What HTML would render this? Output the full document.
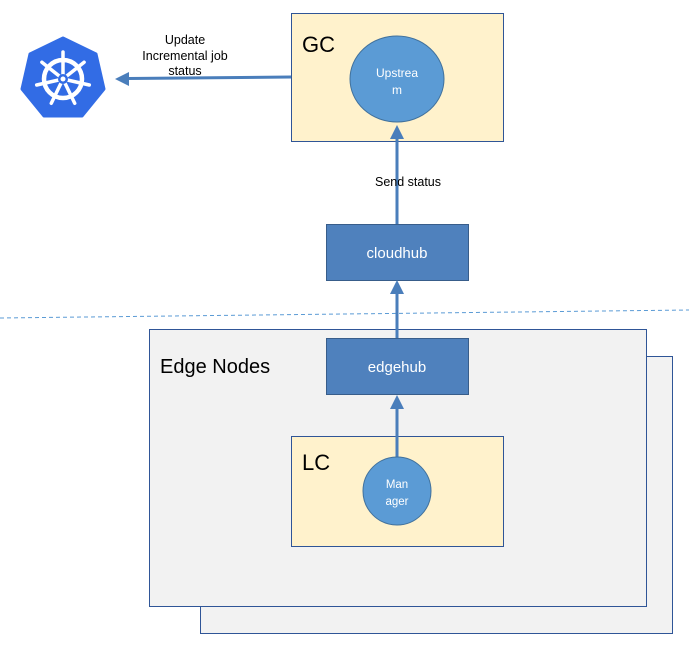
<!DOCTYPE html>
<html><head><style>html,body{margin:0;padding:0;background:#fff;}svg{display:block;}</style></head>
<body>
<svg width="689" height="658" xmlns="http://www.w3.org/2000/svg" font-family="Liberation Sans, sans-serif">
<line x1="0" y1="318" x2="689" y2="310" stroke="#5b9bd5" stroke-width="1" stroke-dasharray="4,3"/>
<polygon points="63,38 96,54 104,89 82,116 44,116 22,89 30,54" fill="#326ce5" stroke="#326ce5" stroke-width="3" stroke-linejoin="round"/>
<g stroke="#fff" fill="none" stroke-linecap="round">
<circle cx="63" cy="79" r="19" stroke-width="4.5"/>
<g stroke-width="3.5">
<line x1="63" y1="79" x2="63" y2="52"/>
<line x1="63" y1="79" x2="84.1" y2="62.2"/>
<line x1="63" y1="79" x2="89.3" y2="85"/>
<line x1="63" y1="79" x2="74.7" y2="103.3"/>
<line x1="63" y1="79" x2="51.3" y2="103.3"/>
<line x1="63" y1="79" x2="36.7" y2="85"/>
<line x1="63" y1="79" x2="41.9" y2="62.2"/>
</g>
</g>
<circle cx="63" cy="79" r="5" fill="#326ce5"/>
<circle cx="63" cy="79" r="2.5" fill="#fff"/>
<rect x="291.5" y="13.5" width="212" height="128" fill="#fff2cc" stroke="#2f5597" stroke-width="1"/>
<text x="302" y="52" font-size="22">GC</text>
<ellipse cx="397" cy="79" rx="47" ry="43" fill="#5b9bd5" stroke="#41719c" stroke-width="1"/>
<text x="397" y="77" font-size="12" fill="#fff" text-anchor="middle">Upstrea</text>
<text x="397" y="94" font-size="12" fill="#fff" text-anchor="middle">m</text>
<line x1="291" y1="77" x2="128" y2="78.5" stroke="#4a7ebb" stroke-width="3"/>
<polygon points="115,79 129,72 129,86" fill="#4a7ebb"/>
<text x="185" y="44" font-size="12.5" text-anchor="middle">Update</text>
<text x="185" y="60" font-size="12.5" text-anchor="middle">Incremental job</text>
<text x="185" y="75" font-size="12.5" text-anchor="middle">status</text>
<line x1="397" y1="224" x2="397" y2="136" stroke="#4a7ebb" stroke-width="3"/>
<polygon points="397,125 390,139 404,139" fill="#4a7ebb"/>
<text x="408" y="186" font-size="12.5" text-anchor="middle">Send status</text>
<rect x="326.5" y="224.5" width="142" height="56" fill="#4f81bd" stroke="#385d8a" stroke-width="1"/>
<text x="397" y="258" font-size="15" fill="#fff" text-anchor="middle">cloudhub</text>
<rect x="200.5" y="356.5" width="472" height="277" fill="#f2f2f2" stroke="#2f5597" stroke-width="1"/>
<rect x="149.5" y="329.5" width="497" height="277" fill="#f2f2f2" stroke="#2f5597" stroke-width="1"/>
<text x="160" y="373" font-size="20">Edge Nodes</text>
<line x1="397" y1="338" x2="397" y2="292" stroke="#4a7ebb" stroke-width="3"/>
<polygon points="397,280 390,294 404,294" fill="#4a7ebb"/>
<rect x="326.5" y="338.5" width="142" height="56" fill="#4f81bd" stroke="#385d8a" stroke-width="1"/>
<text x="397" y="372" font-size="15" fill="#fff" text-anchor="middle">edgehub</text>
<rect x="291.5" y="436.5" width="212" height="110" fill="#fff2cc" stroke="#2f5597" stroke-width="1"/>
<text x="302" y="470" font-size="22">LC</text>
<line x1="397" y1="458" x2="397" y2="406" stroke="#4a7ebb" stroke-width="3"/>
<polygon points="397,395 390,409 404,409" fill="#4a7ebb"/>
<circle cx="397" cy="491" r="34" fill="#5b9bd5" stroke="#41719c" stroke-width="1"/>
<text x="397" y="488" font-size="11.5" fill="#fff" text-anchor="middle">Man</text>
<text x="397" y="505" font-size="11.5" fill="#fff" text-anchor="middle">ager</text>
</svg>
</body></html>
